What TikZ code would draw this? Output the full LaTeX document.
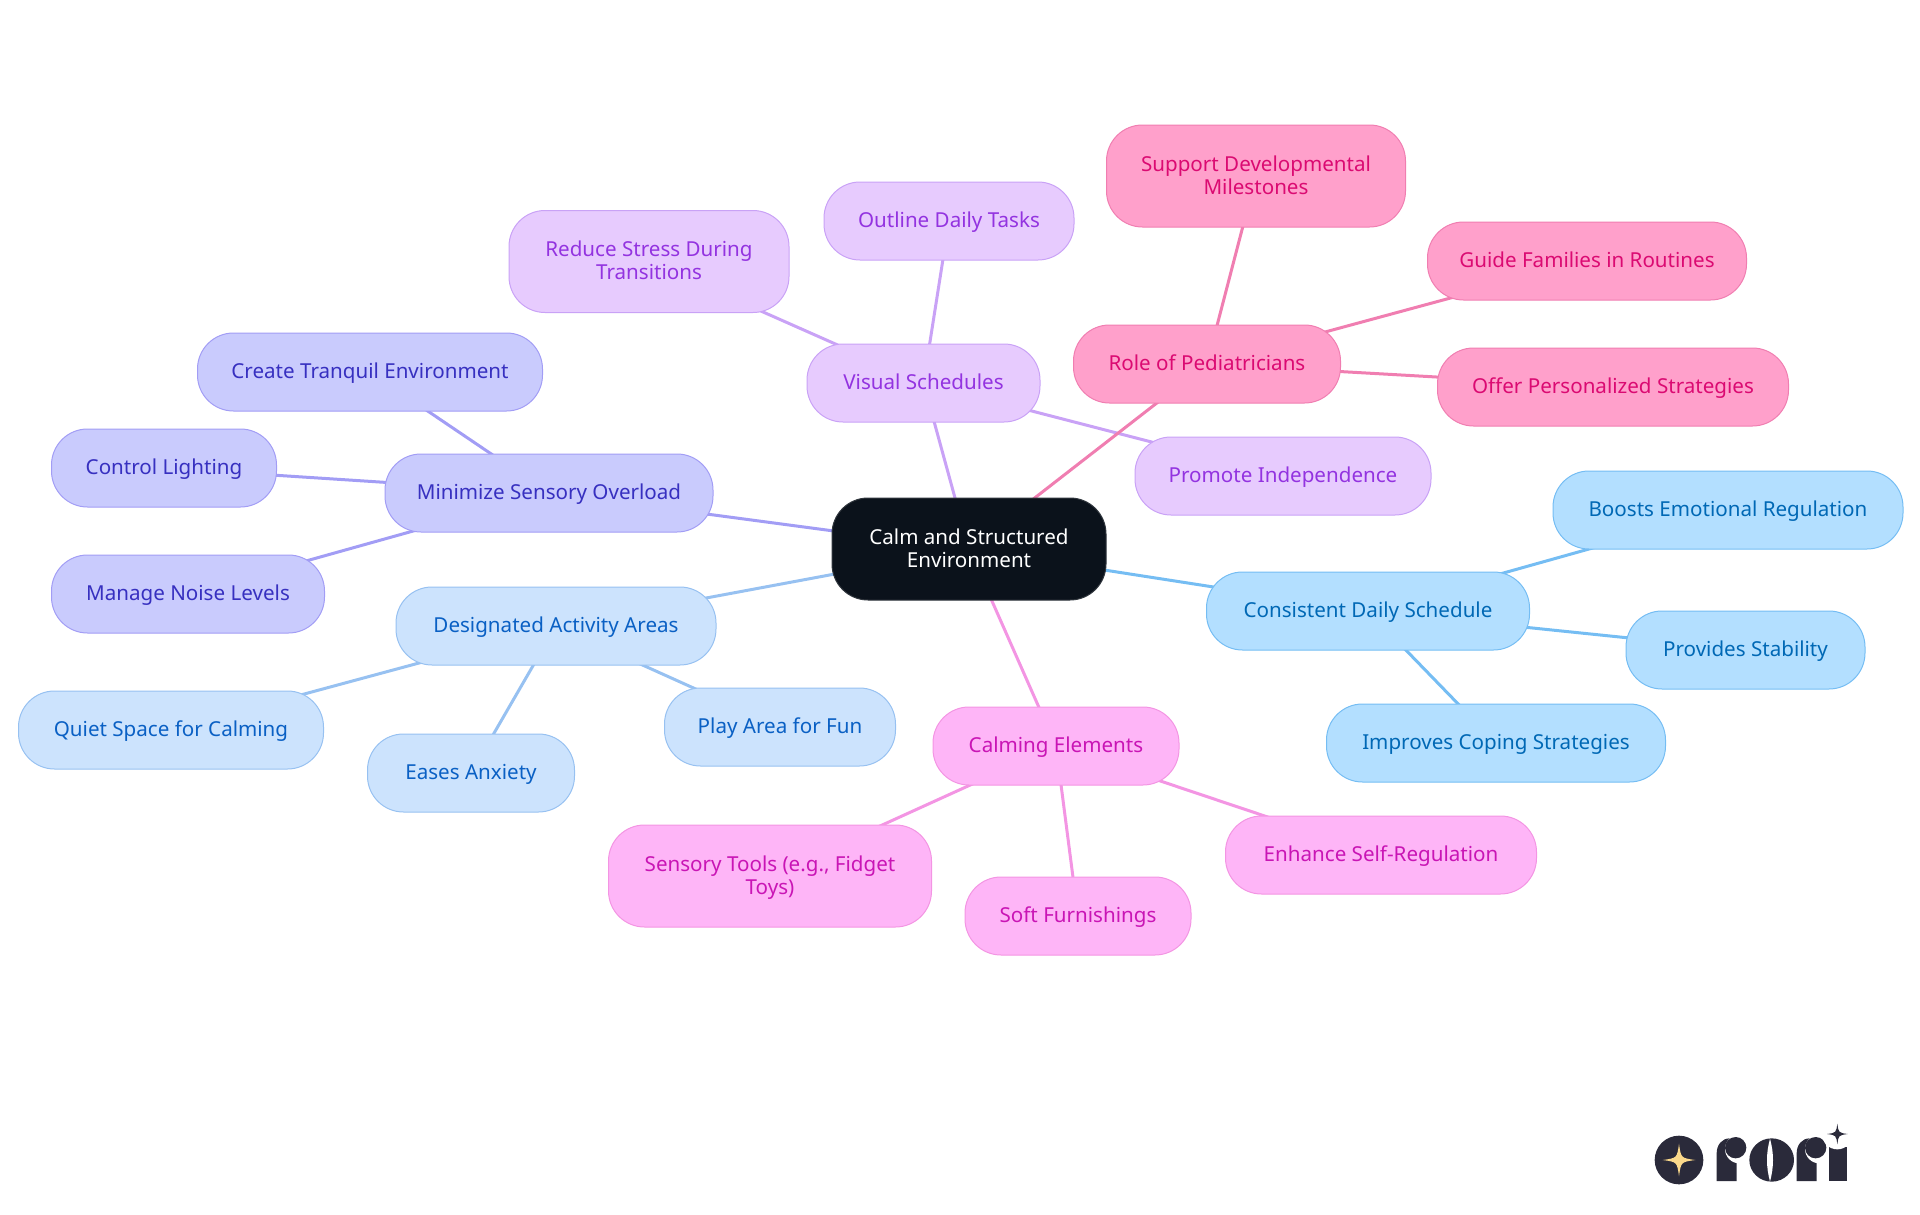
\documentclass[tikz,border=0pt]{standalone}
\usepackage{fontspec}
\setmainfont{Noto Sans}
\usetikzlibrary{backgrounds}
\definecolor{rootfill}{HTML}{0B121B}
\definecolor{bluefill}{HTML}{B3DFFF}\definecolor{blueline}{HTML}{75BDF3}\definecolor{bluetext}{HTML}{0068B5}
\definecolor{skyfill}{HTML}{CCE3FD}\definecolor{skyline}{HTML}{97C1F1}\definecolor{skytext}{HTML}{0A60C4}
\definecolor{indigofill}{HTML}{C9CBFD}\definecolor{indigoline}{HTML}{A29DF5}\definecolor{indigotext}{HTML}{3730C0}
\definecolor{purplefill}{HTML}{E7CBFE}\definecolor{purpleline}{HTML}{C9A2F6}\definecolor{purpletext}{HTML}{9333E0}
\definecolor{pinkfill}{HTML}{FFA0CB}\definecolor{pinkline}{HTML}{F07EB1}\definecolor{pinktext}{HTML}{DB0A72}
\definecolor{magentafill}{HTML}{FEB5F7}\definecolor{magentaline}{HTML}{F395E3}\definecolor{magentatext}{HTML}{C915B5}
\definecolor{logodark}{HTML}{2A2A3A}
\definecolor{logogold}{HTML}{FBD98B}
\newcommand{\sparkle}[4]{% x, y, radius, colour
  \fill[#4] (#1,#2-#3) .. controls (#1+.12*#3,#2-.12*#3) .. (#1+#3,#2)
    .. controls (#1+.12*#3,#2+.12*#3) .. (#1,#2+#3)
    .. controls (#1-.12*#3,#2+.12*#3) .. (#1-#3,#2)
    .. controls (#1-.12*#3,#2-.12*#3) .. (#1,#2-#3) -- cycle;}
\begin{document}
\begin{tikzpicture}[x=1pt,y=-1pt]
    \tikzstyle{mm}=[rectangle,rounded corners=36pt,line width=1pt,minimum height=78pt,inner sep=0pt,align=center,text height=13pt,text depth=0pt,font=\fontsize{20.6}{23}\selectfont]
    \tikzstyle{tall}=[minimum height=102pt,text height=36pt,text depth=0pt]
    \tikzstyle{link}=[line width=3pt]
    \tikzstyle{rootbox}=[mm,tall,draw=rootfill!85!white,fill=rootfill,text=white]
    \tikzstyle{bluebox}=[mm,draw=blueline,fill=bluefill,text=bluetext]
    \tikzstyle{skybox}=[mm,draw=skyline,fill=skyfill,text=skytext]
    \tikzstyle{indigobox}=[mm,draw=indigoline,fill=indigofill,text=indigotext]
    \tikzstyle{purplebox}=[mm,draw=purpleline,fill=purplefill,text=purpletext]
    \tikzstyle{pinkbox}=[mm,draw=pinkline,fill=pinkfill,text=pinktext]
    \tikzstyle{magentabox}=[mm,draw=magentaline,fill=magentafill,text=magentatext]
    \useasboundingbox (0,0) rectangle (1920,1215);
    \node[rootbox,minimum width=274pt] (calm) at (969,549) {Calm and Structured\\Environment};
    \node[purplebox,minimum width=233pt] (visual) at (923.5,383) {Visual Schedules};
    \node[purplebox,minimum width=250pt] (outline) at (949,221) {Outline Daily Tasks};
    \node[purplebox,tall,minimum width=280pt] (reduce) at (649,261.5) {Reduce Stress During\\Transitions};
    \node[purplebox,minimum width=296pt] (promote) at (1283,476) {Promote Independence};
    \node[pinkbox,minimum width=267pt] (role) at (1207,364) {Role of Pediatricians};
    \node[pinkbox,tall,minimum width=299pt] (support) at (1256,176) {Support Developmental\\Milestones};
    \node[pinkbox,minimum width=319pt] (guide) at (1587,261) {Guide Families in Routines};
    \node[pinkbox,minimum width=351pt] (offer) at (1613,387) {Offer Personalized Strategies};
    \node[indigobox,minimum width=328pt] (minimize) at (549,493) {Minimize Sensory Overload};
    \node[indigobox,minimum width=345pt] (create) at (370,372) {Create Tranquil Environment};
    \node[indigobox,minimum width=225pt] (control) at (164,468) {Control Lighting};
    \node[indigobox,minimum width=273pt] (manage) at (188,594) {Manage Noise Levels};
    \node[skybox,minimum width=320pt] (designated) at (556,626) {Designated Activity Areas};
    \node[skybox,minimum width=305pt] (quiet) at (171,730) {Quiet Space for Calming};
    \node[skybox,minimum width=207pt] (eases) at (471,773) {Eases Anxiety};
    \node[skybox,minimum width=231pt] (play) at (780,727) {Play Area for Fun};
    \node[magentabox,minimum width=246pt] (calming) at (1056,746) {Calming Elements};
    \node[magentabox,tall,minimum width=323pt] (sensory) at (770,876) {Sensory Tools (e.g., Fidget\\Toys)};
    \node[magentabox,minimum width=226pt] (soft) at (1078,916) {Soft Furnishings};
    \node[magentabox,minimum width=311pt] (enhance) at (1381,855) {Enhance Self-Regulation};
    \node[bluebox,minimum width=323pt] (consistent) at (1368,611) {Consistent Daily Schedule};
    \node[bluebox,minimum width=350pt] (boosts) at (1728,510) {Boosts Emotional Regulation};
    \node[bluebox,minimum width=239pt] (provides) at (1745.5,650) {Provides Stability};
    \node[bluebox,minimum width=339pt] (improves) at (1496,743) {Improves Coping Strategies};
    \begin{scope}[on background layer]
      \foreach \from/\to/\col in {calm/visual/purpleline,visual/outline/purpleline,visual/reduce/purpleline,visual/promote/purpleline,
        calm/role/pinkline,role/support/pinkline,role/guide/pinkline,role/offer/pinkline,
        calm/minimize/indigoline,minimize/create/indigoline,minimize/control/indigoline,minimize/manage/indigoline,
        calm/designated/skyline,designated/quiet/skyline,designated/eases/skyline,designated/play/skyline,
        calm/calming/magentaline,calming/sensory/magentaline,calming/soft/magentaline,calming/enhance/magentaline,
        calm/consistent/blueline,consistent/boosts/blueline,consistent/provides/blueline,consistent/improves/blueline}
        \draw[link,\col] (\from.center) -- (\to.center);
    \end{scope}
    % logo
    \begin{scope}[shift={(1620,1100)},scale=1/3]
      \fill[logodark] (177,180) circle (73);
      \sparkle{177}{180}{49}{logogold}
      \foreach \dx in {0,240} {
        \fill[logodark] (290+\dx,243) -- (290+\dx,160) .. controls (290+\dx,135) and (305+\dx,115) .. (330+\dx,115) -- (350+\dx,115) -- (350+\dx,243) -- cycle;
        \fill[white] (358+\dx,147) circle (43);
        \fill[logodark] (347+\dx,143) circle (32);
      }
      \fill[logodark] (455,180) ellipse (67 and 65);
      \fill[white] (450,116) .. controls (438,160) and (438,200) .. (450,245) .. controls (462,200) and (462,160) .. (450,116) -- cycle;
      \fill[logodark] (627,243) -- (627,140) -- (680,140) -- (680,243) -- cycle;
      \fill[white] (652,102) circle (46);
      \sparkle{652}{102}{31}{logodark}
    \end{scope}
\end{tikzpicture}
\end{document}
